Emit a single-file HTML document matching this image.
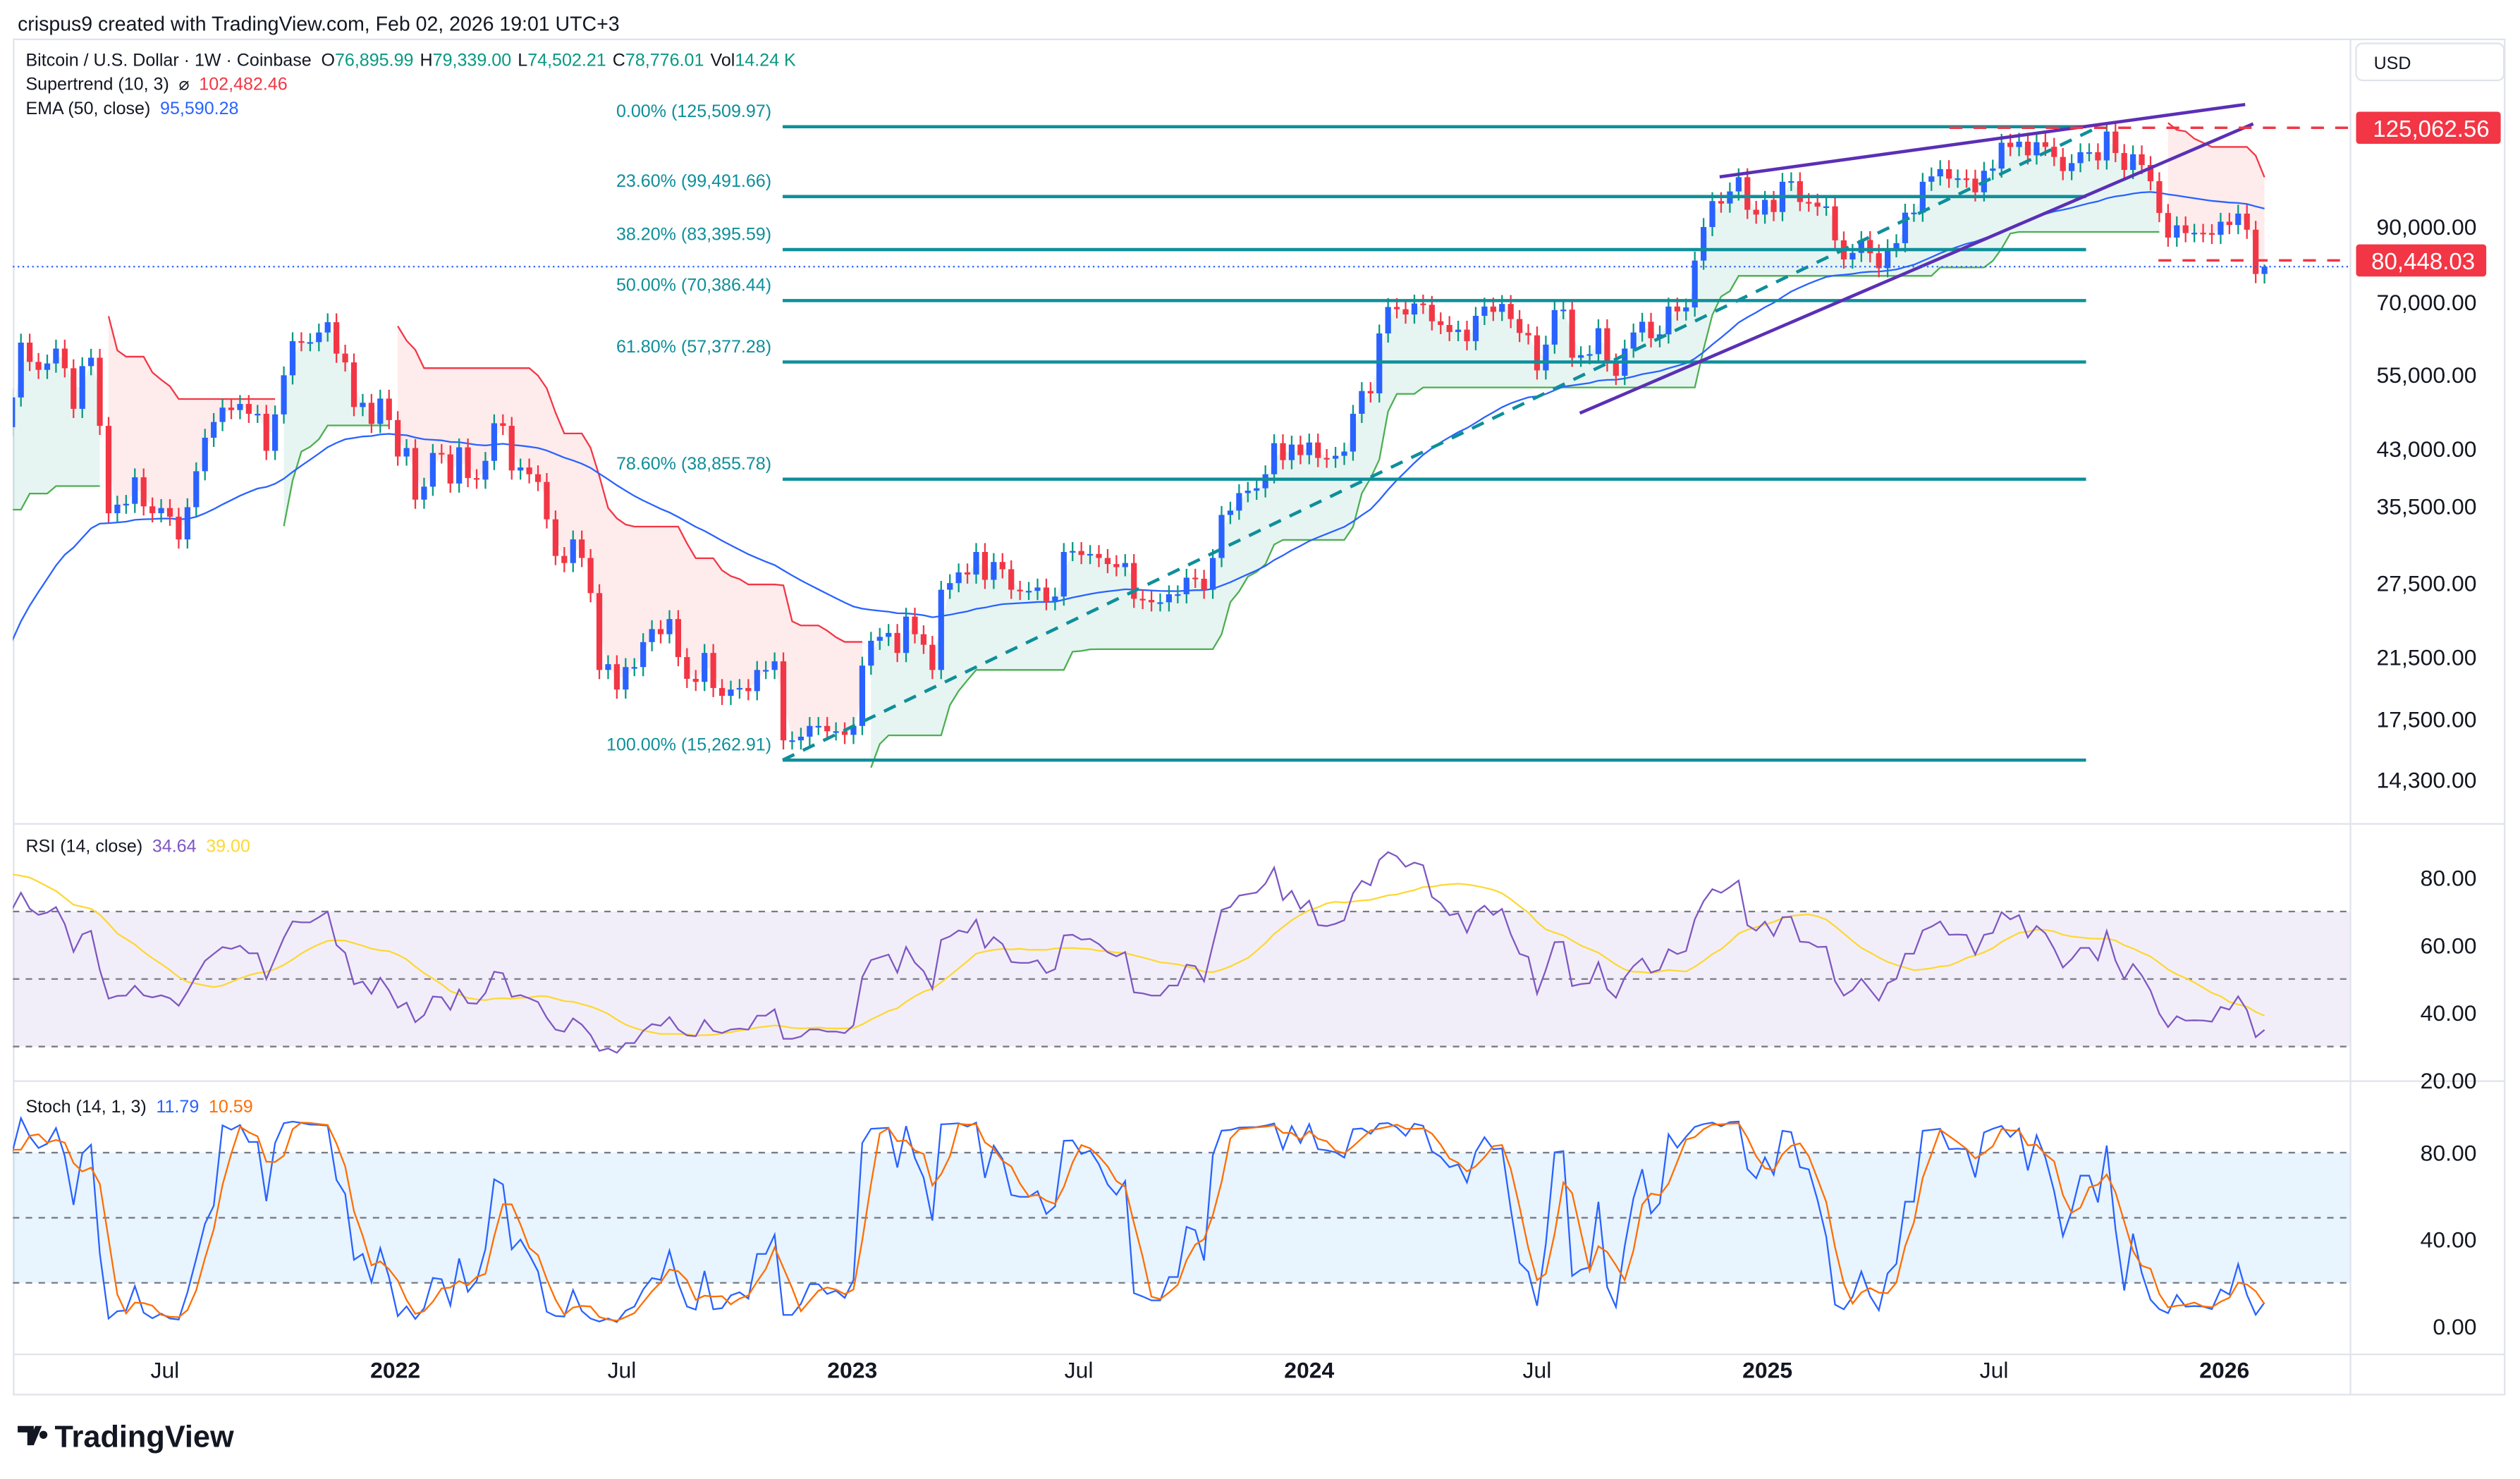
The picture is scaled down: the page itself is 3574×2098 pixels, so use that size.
<!DOCTYPE html>
<html><head><meta charset="utf-8"><style>
html,body{margin:0;padding:0;background:#fff;}
svg{display:block;font-family:"Liberation Sans",Arial,sans-serif;}
</style></head><body>
<svg id="chart" width="3574" height="2098" viewBox="0 0 1568 920" preserveAspectRatio="none" xmlns="http://www.w3.org/2000/svg">
<defs>
<clipPath id="mainClip"><rect x="8" y="25" width="1454" height="486"/></clipPath>
<clipPath id="rsiClip"><rect x="8" y="513" width="1454" height="158"/></clipPath>
<clipPath id="stClip"><rect x="8" y="673" width="1454" height="168"/></clipPath>
</defs>
<rect width="1568" height="920" fill="#fff"/>
<text x="11" y="19" font-size="12.5" fill="#131722">crispus9 created with TradingView.com, Feb 02, 2026 19:01 UTC+3</text>
<g stroke="#e0e3eb" stroke-width="1" fill="none">
<rect x="8.5" y="24.5" width="1550" height="843"/>
<line x1="8" y1="512.5" x2="1558" y2="512.5"/>
<line x1="8" y1="672.5" x2="1558" y2="672.5"/>
<line x1="8" y1="842.5" x2="1558" y2="842.5"/>
<line x1="1462.5" y1="24" x2="1462.5" y2="868"/>
</g>
<g id="main" clip-path="url(#mainClip)"></g>
<g id="rsi" clip-path="url(#rsiClip)"></g>
<g id="stoch" clip-path="url(#stClip)"></g>
<g id="overlay"></g>
<g id="axes"></g>
<g font-size="11">
<text x="16" y="41" fill="#131722">Bitcoin / U.S. Dollar · 1W · Coinbase <tspan dx="3">O</tspan><tspan fill="#089981">76,895.99</tspan><tspan dx="4">H</tspan><tspan fill="#089981">79,339.00</tspan><tspan dx="4">L</tspan><tspan fill="#089981">74,502.21</tspan><tspan dx="4">C</tspan><tspan fill="#089981">78,776.01</tspan><tspan dx="4">Vol</tspan><tspan fill="#089981">14.24 K</tspan></text>
<text x="16" y="56" fill="#131722">Supertrend (10, 3)<tspan dx="6">⌀</tspan><tspan dx="6" fill="#f23645">102,482.46</tspan></text>
<text x="16" y="71" fill="#131722">EMA (50, close)<tspan dx="6" fill="#2962ff">95,590.28</tspan></text>
<text x="16" y="530" fill="#131722">RSI (14, close)<tspan dx="6" fill="#7e57c2">34.64</tspan><tspan dx="6" fill="#fdd835">39.00</tspan></text>
<text x="16" y="692" fill="#131722">Stoch (14, 1, 3)<tspan dx="6" fill="#2962ff">11.79</tspan><tspan dx="6" fill="#ff6d00">10.59</tspan></text>
</g>
<g>
<rect x="1466" y="27" width="92" height="23" rx="4" fill="#fff" stroke="#e0e3eb"/>
<text x="1477" y="43" font-size="11" fill="#131722">USD</text>
</g>
<g>
<path d="M11 887h10v12h-4v-8h-6z M22 887h4l-5 12h-4z M27 895a2.5 2.5 0 1 1 0.01 0z" fill="#131722"/>
<text x="34" y="900" font-size="19" font-weight="bold" fill="#131722">TradingView</text>
</g>
</svg>
<script>
const warmupCloses=[9.9,9.7,8.7,7.9,5.4,6.2,5.8,6.4,6.8,7.0,6.9,7.6,7.7,8.8,9.6,9.3,9.7,9.5,9.7,9.7,9.4,9.3,9.1,9.2,9.3,9.8,11.0,11.6,11.7,11.8,11.5,10.3,10.3,10.8,10.7,10.7,11.3,11.5,13.0,13.8,15.5,15.9,18.4,18.7,19.7,19.1,18.8,23.8,26.4,29.0,40.1,38.0,32.4,34.5,39.2,47.2];
const chartCloses=[57.5,46.2,51.0,61.2,57.4,55.9,57.1,60.0,56.2,49.1,56.6,58.2,46.4,34.7,35.7,35.8,39.1,35.5,34.7,35.3,34.3,31.8,35.4,39.9,44.6,47.0,49.3,48.9,49.9,48.3,48.3,42.7,48.2,54.9,61.5,61.3,61.3,63.3,65.5,59.0,57.3,49.4,50.1,46.7,50.8,47.3,
41.9,43.1,36.3,37.9,42.4,42.2,38.3,43.2,39.0,38.8,41.3,46.8,46.4,40.0,40.4,39.5,38.5,34.0,30.1,29.4,31.8,29.9,26.6,20.6,21.0,19.3,20.8,20.8,22.6,23.6,23.2,24.4,21.5,20.0,19.8,21.8,19.4,18.9,19.3,19.4,19.2,20.6,20.6,21.2,16.3,16.3,16.5,17.1,17.1,16.8,16.8,16.6,
17.1,20.9,22.7,23.0,23.3,21.8,24.6,23.2,22.4,20.6,26.9,27.5,28.5,28.3,30.5,27.8,29.5,28.8,26.9,26.8,26.8,27.1,25.9,26.3,30.5,30.6,30.2,30.3,29.9,29.3,29.0,29.4,26.1,26.0,25.8,25.8,26.5,26.5,28.0,27.9,26.9,29.9,34.5,35.0,37.1,37.4,37.7,39.5,43.8,41.4,43.6,42.1,
43.9,41.7,41.6,42.0,42.6,48.3,52.1,51.7,63.1,68.9,68.4,67.2,69.7,69.4,65.7,64.9,63.4,63.9,61.5,66.9,69.0,67.8,69.6,66.2,63.2,62.7,55.8,60.8,68.2,68.3,58.2,58.7,58.9,64.2,57.3,54.8,60.0,63.3,65.6,62.1,62.9,69.0,67.9,68.8,80.4,89.9,98.0,97.2,101.2,106.1,95.2,93.7,98.4,
94.5,104.5,104.7,97.7,97.5,96.2,96.3,86.0,80.7,82.5,86.1,82.4,78.4,83.8,85.2,94.3,94.3,104.5,106.4,109.0,105.6,105.7,105.6,100.9,108.4,109.2,119.0,117.3,119.4,114.1,119.2,117.4,113.5,108.3,111.2,115.3,115.3,112.2,123.5,115.0,108.7,114.5,110.5,104.7,94.2,86.8,90.4,88.1,88.2,88.1,87.6,91.5,90.5,94.0,89.1,76.9,78.8];
const firstOpen=[10.0];
const lastHigh=[79.34];
const lastLow=[74.50];
const lastDate=[2026,1,2];
const tickLabels=["Jul","2022","Jul","2023","Jul","2024","Jul","2025","Jul","2026"];
const tickDates=[[2021,6,1],[2022,0,1],[2022,6,1],[2023,0,1],[2023,6,1],[2024,0,1],[2024,6,1],[2025,0,1],[2025,6,1],[2026,0,1]];
const priceTicks=[90,70,55,43,35.5,27.5,21.5,17.5,14.3];
const fibLevels=[0,0.236,0.382,0.5,0.618,0.786,1];
const fibLabels=["125,509.97","99,491.66","83,395.59","70,386.44","57,377.28","38,855.78","15,262.91"];
const fibHigh=[125.50997];
const fibLow=[15.26291];
const rsiTicks=[80,60,40,20];
const stochTicks=[80,40,0];

const closes=warmupCloses.concat(chartCloses);
const NS="http://www.w3.org/2000/svg";
const STEP=5.453, LASTX=1409;
function mk(tag,attrs,parent){const e=document.createElementNS(NS,tag);for(const k in attrs)e.setAttribute(k,attrs[k]);parent.appendChild(e);return e;}
const N=closes.length;
const xi=i=>LASTX-(N-1-i)*STEP;
const yP=p=>188-187*Math.log(p/70);
const yR=v=>546+(80-v)*2.1;
const yS=v=>825-v*1.35;
const lastT=Date.UTC(lastDate[0],lastDate[1],lastDate[2]);
const xDate=d=>LASTX-(lastT-Date.UTC(d[0],d[1],d[2]))/(7*864e5)*STEP;
const visible=i=>xi(i)>-20;

const O=[],H=[],L=[];
for(let i=0;i<N;i++){
  const o=i===0?firstOpen[0]:closes[i-1];O.push(o);
  const hi=Math.max(o,closes[i]),lo=Math.min(o,closes[i]);
  H.push(hi*1.03);L.push(lo*0.97);
}
H[N-1]=lastHigh[0];L[N-1]=lastLow[0];

const gM=document.getElementById('main'),gR=document.getElementById('rsi'),gS=document.getElementById('stoch'),gA=document.getElementById('axes'),gO=document.getElementById('overlay');

const atr=[];let st=[],dir=[];
{let a=0,upP=0,dnP=0,d=1;
for(let i=0;i<N;i++){
  const tr=i===0?H[i]-L[i]:Math.max(H[i]-L[i],Math.abs(H[i]-closes[i-1]),Math.abs(L[i]-closes[i-1]));
  a=i===0?tr:(a*9+tr)/10;atr.push(a);
  const hl2=(H[i]+L[i])/2;let up=hl2-3*a,dn=hl2+3*a;
  if(i>0){ if(closes[i-1]>upP) up=Math.max(up,upP); if(closes[i-1]<dnP) dn=Math.min(dn,dnP);
    if(d===-1&&closes[i]>dnP) d=1; else if(d===1&&closes[i]<upP) d=-1; }
  upP=up;dnP=dn;dir.push(d);st.push(d===1?up:dn);
}}
{let s=10;
 for(let i=s;i<N;){let j=i;while(j+1<N&&dir[j+1]===dir[i])j++;
  const col=dir[i]===1?'#089981':'#f23645';
  let pts=[],top=[];
  for(let k=i;k<=j;k++){pts.push(xi(k)+','+yP(st[k]));top.push(xi(k)+','+yP((O[k]+closes[k])/2));}
  const poly=mk('polygon',{points:pts.concat(top.slice().reverse()).join(' '),fill:col,'fill-opacity':0.1},gM);
  
  
  const pl=mk('polyline',{points:pts.join(' '),fill:'none',stroke:dir[i]===1?'#4caf50':'#f23645','stroke-width':1},gM);
  
  
  i=j+1;}
}
{const k=2/51;let e=closes[0],pts=[];
 for(let i=0;i<N;i++){e=i===0?closes[0]:closes[i]*k+e*(1-k);if(visible(i))pts.push(xi(i)+','+yP(e));}
 const pl=mk('polyline',{points:pts.join(' '),fill:'none',stroke:'#2962ff','stroke-width':1},gM);
 
 }

const fx1=487,fx2=1298;
fibLevels.forEach((f,idx)=>{
  const p=fibHigh[0]-(fibHigh[0]-fibLow[0])*f;const y=yP(p);
  const ln=mk('line',{x1:fx1,x2:fx2,y1:y,y2:y,stroke:'#0e8f9a','stroke-width':2},gO);
  
  
  const t=mk('text',{x:480,y:y-6,'text-anchor':'end','font-size':11,fill:'#0e8f9a'},gO);
  t.textContent=(f*100).toFixed(2)+'% ('+fibLabels[idx]+')';
  
  
});
{const l=mk('line',{x1:fx1,y1:yP(fibLow[0]),x2:1306,y2:yP(fibHigh[0]),stroke:'#0e8f9a','stroke-width':2,'stroke-dasharray':'8 6'},gO);
 
 }

for(let i=0;i<N;i++){
  if(!visible(i))continue;
  const up=closes[i]>=O[i];const x=xi(i);
  const w=mk('line',{x1:x,x2:x,y1:yP(H[i]),y2:yP(L[i]),stroke:up?'#089981':'#f23645','stroke-width':1},gM);
  
  
  const y1=yP(Math.max(O[i],closes[i])),y2=yP(Math.min(O[i],closes[i]));
  const b=mk('rect',{x:x-1.8,y:y1,width:3.6,height:Math.max(1,y2-y1),fill:up?'#2962ff':'#f23645'},gM);
  
  
}

[[1070,110,1397,65],[983,257,1402,77]].forEach(c=>{
  const l=mk('line',{x1:c[0],y1:c[1],x2:c[2],y2:c[3],stroke:'#5b2fb5','stroke-width':2},gO);
  
  });
[[1213,125.06256,'125,062.56',1466,1556],[1343,80.44803,'80,448.03',1466,1547]].forEach(c=>{
  const y=yP(c[1]);
  const l=mk('line',{x1:c[0],x2:1462,y1:y,y2:y,stroke:'#f23645','stroke-width':1.5,'stroke-dasharray':'8 7'},gO);
  
  
  const r=mk('rect',{x:c[3],y:y-10,width:c[4]-c[3],height:20,rx:2,fill:'#f23645'},gA);
  
  
  const t=mk('text',{x:c[4]-7,y:y+5.5,'text-anchor':'end','font-size':14.5,fill:'#fff'},gA);t.textContent=c[2];
  
  });
{const y=yP(closes[N-1]);const l=mk('line',{x1:8,x2:1462,y1:y,y2:y,stroke:'#2962ff','stroke-width':1,'stroke-dasharray':'1 2'},gO);
 
 }

priceTicks.forEach(p=>{const y=yP(p);
  const t=mk('text',{x:1541,y:y+5,'text-anchor':'end','font-size':14,fill:'#131722'},gA);
  t.textContent=(p*1000).toLocaleString('en-US',{minimumFractionDigits:2});
  
  });

const rsi=new Array(N).fill(null);
{let ag=0,al=0;
 for(let i=1;i<N;i++){const ch=closes[i]-closes[i-1];const g=Math.max(ch,0),l=Math.max(-ch,0);
  if(i<=14){ag+=g/14;al+=l/14;}else{ag=(ag*13+g)/14;al=(al*13+l)/14;}
  if(i>=14)rsi[i]=al===0?100:100-100/(1+ag/al);}}
{const b=mk('rect',{x:8,y:yR(70),width:1454,height:yR(30)-yR(70),fill:'#7e57c2','fill-opacity':0.1},gR);
 
 
 [70,50,30].forEach(v=>{const l=mk('line',{x1:8,x2:1462,y1:yR(v),y2:yR(v),stroke:'#787b86','stroke-width':1,'stroke-dasharray':'4 4'},gR);
  
  });
 let pts=[],ma=[];
 for(let i=0;i<N;i++){if(rsi[i]!==null&&visible(i))pts.push(xi(i)+','+yR(rsi[i]));
  if(i>=27&&visible(i)){let s=0;for(let k=i-13;k<=i;k++)s+=rsi[k];ma.push(xi(i)+','+yR(s/14));}}
 const m=mk('polyline',{points:ma.join(' '),fill:'none',stroke:'#fdd835','stroke-width':1},gR);
 
 
 const r=mk('polyline',{points:pts.join(' '),fill:'none',stroke:'#7e57c2','stroke-width':1},gR);
 
 
 rsiTicks.forEach(v=>{const t=mk('text',{x:1541,y:yR(v)+5,'text-anchor':'end','font-size':14,fill:'#131722'},gA);t.textContent=v.toFixed(2);
  
  });
}
{const b=mk('rect',{x:8,y:yS(80),width:1454,height:yS(20)-yS(80),fill:'#2196f3','fill-opacity':0.1},gS);
 
 
 [80,50,20].forEach(v=>{const l=mk('line',{x1:8,x2:1462,y1:yS(v),y2:yS(v),stroke:'#787b86','stroke-width':1,'stroke-dasharray':'4 4'},gS);
  
  });
 const K=new Array(N).fill(null);
 for(let i=13;i<N;i++){let hh=-1e9,ll=1e9;for(let k=i-13;k<=i;k++){hh=Math.max(hh,H[k]);ll=Math.min(ll,L[k]);}K[i]=100*(closes[i]-ll)/(hh-ll);}
 let kp=[],dp=[];
 for(let i=15;i<N;i++){if(!visible(i))continue;kp.push(xi(i)+','+yS(K[i]));dp.push(xi(i)+','+yS((K[i]+K[i-1]+K[i-2])/3));}
 const kl=mk('polyline',{points:kp.join(' '),fill:'none',stroke:'#2962ff','stroke-width':1},gS);
 
 
 const dl=mk('polyline',{points:dp.join(' '),fill:'none',stroke:'#ff6d00','stroke-width':1},gS);
 
 
 stochTicks.forEach(v=>{const t=mk('text',{x:1541,y:yS(v)+5,'text-anchor':'end','font-size':14,fill:'#131722'},gA);t.textContent=v.toFixed(2);
  
  });
}
tickLabels.forEach((lab,i)=>{const t=mk('text',{x:xDate(tickDates[i]),y:857,'text-anchor':'middle','font-size':14,fill:'#131722','font-weight':lab==='Jul'?'normal':'bold'},gA);t.textContent=lab;
  
  });
</script>
</body></html>
